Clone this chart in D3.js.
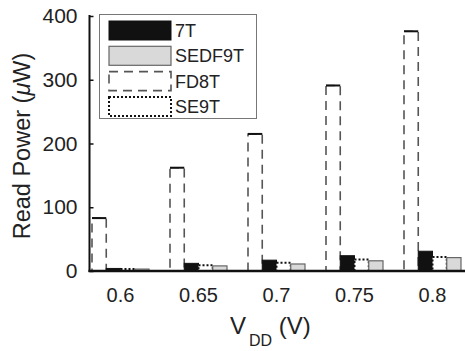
<!DOCTYPE html>
<html><head><meta charset="utf-8">
<script src="https://cdn.jsdelivr.net/npm/d3@7"></script>
<style>body{margin:0;background:#fff}svg{display:block;font-family:"Liberation Sans",Arial,Helvetica,sans-serif}</style>
</head><body><svg id="c" width="465" height="351"></svg>
<script>
const categories = ["0.6","0.65","0.7","0.75","0.8"];
const seriesDrawOrder = ["FD8T","7T","SE9T","SEDF9T"];
const legendOrder = ["7T","SEDF9T","FD8T","SE9T"];
const fd8t   = [83, 162, 215, 291, 376];
const t7     = [4, 12, 17, 24, 31];
const se9t   = [3, 9, 13, 18, 22];
const sedf9t = [3, 8, 11, 16, 21];
const yTicks = [0, 100, 200, 300, 400];

const values = {"FD8T": fd8t, "7T": t7, "SE9T": se9t, "SEDF9T": sedf9t};
const styles = {
  "7T":    {fill:"#111", stroke:"#111", dash:null, sw:1},
  "SEDF9T":{fill:"#d9d9d9", stroke:"#666", dash:null, sw:1.2},
  "FD8T":  {fill:"#fff", stroke:"#555", dash:"9,6", sw:1.6},
  "SE9T":  {fill:"#fff", stroke:"#111", dash:"2,2", sw:2}
};

const svg = d3.select("#c");
const x0 = d3.scaleBand().domain(categories).range([81.5, 471.5]).padding(0);
const x1 = d3.scaleBand().domain(seriesDrawOrder).range([10.5, x0.bandwidth()-10.5]).padding(0);
const y = d3.scaleLinear().domain([0, 400]).range([271, 16]);

// bars
const g = svg.append("g");
categories.forEach((c, i) => {
  seriesDrawOrder.forEach(s => {
    const st = styles[s];
    const v = values[s][i];
    g.append("rect")
      .attr("x", x0(c) + x1(s))
      .attr("y", y(v))
      .attr("width", x1.bandwidth())
      .attr("height", y(0) - y(v))
      .attr("fill", st.fill)
      .attr("stroke", st.stroke)
      .attr("stroke-width", st.sw)
      .attr("stroke-dasharray", st.dash);
    if (s === "FD8T") {
      g.append("line")
        .attr("x1", x0(c) + x1(s)).attr("x2", x0(c) + x1(s) + x1.bandwidth())
        .attr("y1", y(v)).attr("y2", y(v))
        .attr("stroke", "#111").attr("stroke-width", 2);
    }
  });
});

// y axis
const yAxis = d3.axisLeft(y).tickValues(yTicks).tickSize(-4).tickPadding(12);
const ya = svg.append("g").attr("transform", "translate(89.5,0)").call(yAxis);
ya.select(".domain").attr("stroke", "#111").attr("stroke-width", 2).attr("d", "M0,15V272");
ya.selectAll(".tick line").attr("stroke", "#111").attr("stroke-width", 1.5);
ya.selectAll(".tick text").attr("font-size", 21).attr("fill", "#222").attr("font-family", "Liberation Sans, Arial, sans-serif");

// x axis
const xAxis = d3.axisBottom(x0).tickSize(0).tickPadding(17);
const xa = svg.append("g").attr("transform", "translate(0,271)").call(xAxis);
xa.select(".domain").attr("stroke", "#111").attr("stroke-width", 2.5).attr("d", "M88.5,0H465");
xa.selectAll(".tick text").attr("font-size", 20).attr("fill", "#222").attr("font-family", "Liberation Sans, Arial, sans-serif");

// axis labels
const yl = svg.append("text").attr("transform", "translate(30,146) rotate(-90)")
  .attr("text-anchor", "middle").attr("font-size", 23.5).attr("fill", "#222");
yl.append("tspan").text("Read Power (");
yl.append("tspan").attr("font-style", "italic").text("μ");
yl.append("tspan").text("W)");

const xl = svg.append("text").attr("x", 230).attr("y", 334).attr("font-size", 24).attr("fill", "#222");
xl.append("tspan").text("V");
xl.append("tspan").attr("dy", 12).attr("dx", 3).attr("font-size", 16).text("DD");
xl.append("tspan").attr("dy", -12).attr("font-size", 24).text(" (V)");

// legend
const lg = svg.append("g");
lg.append("rect").attr("x", 99.5).attr("y", 14.5).attr("width", 157).attr("height", 104)
  .attr("fill", "#fff").attr("stroke", "#777").attr("stroke-width", 1);
legendOrder.forEach((s, i) => {
  const st = styles[s];
  const yy = 21 + i * 25.3;
  lg.append("rect").attr("x", 109).attr("y", yy).attr("width", 62).attr("height", 19)
    .attr("fill", st.fill).attr("stroke", st.stroke).attr("stroke-width", st.sw)
    .attr("stroke-dasharray", st.dash);
  lg.append("text").attr("x", 175).attr("y", yy + 16).attr("font-size", 18).attr("fill", "#222").text(s);
});
</script></body></html>
